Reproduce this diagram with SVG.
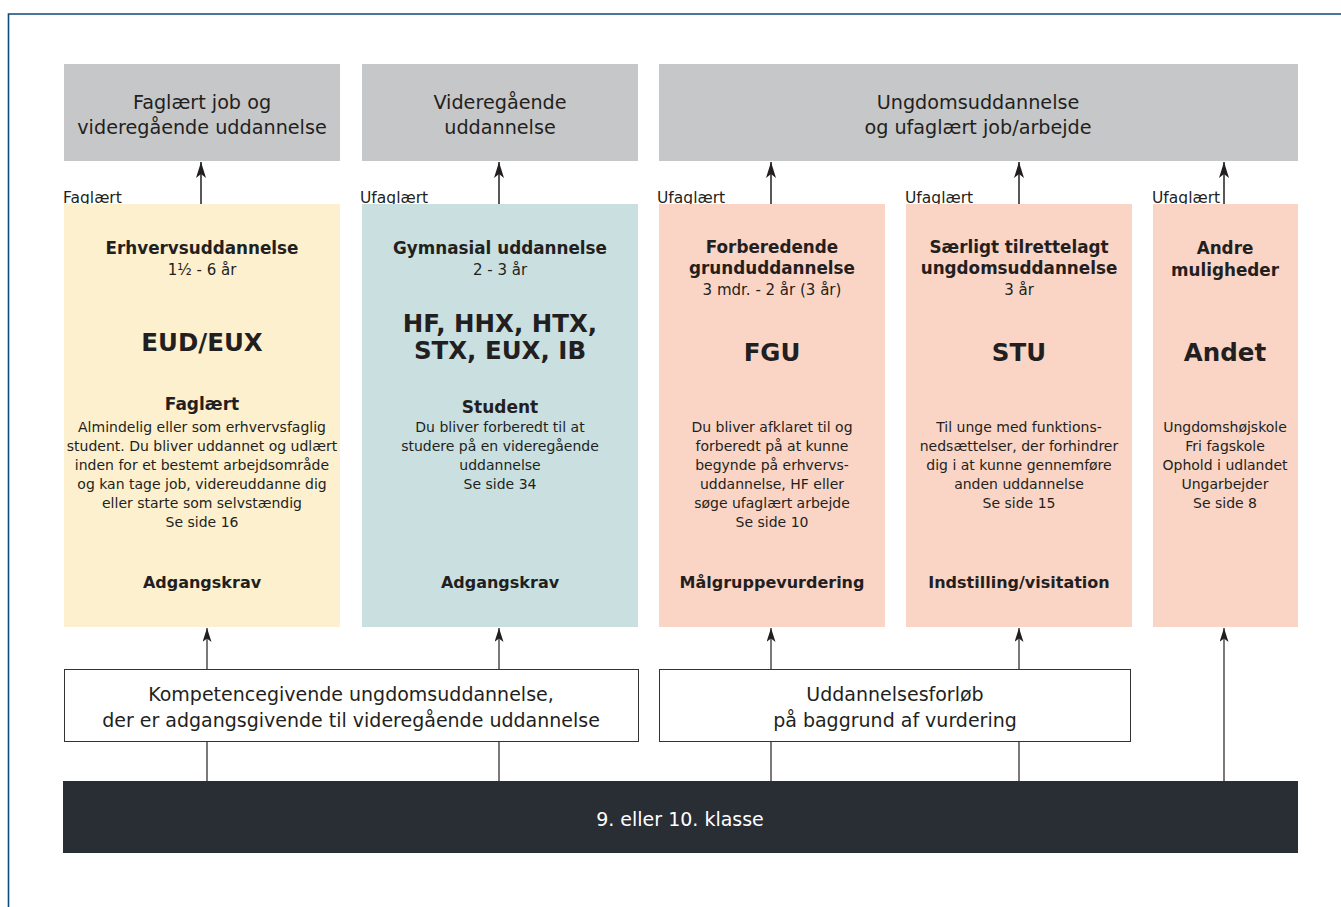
<svg xmlns="http://www.w3.org/2000/svg" width="1341" height="907" viewBox="0 0 1341 907">
<style>
text{font-family:"DejaVu Sans","Open Sans",sans-serif;fill:#231f20;text-anchor:middle}
.hd{font-size:19.2px}
.lb{font-size:15.5px;text-anchor:start}
.t{font-size:16.8px;font-weight:bold}
.s{font-size:15px}
.big{font-size:24.5px;font-weight:bold}
.d{font-size:14px}
.f{font-size:17px;font-weight:bold}
.g{font-size:16px;font-weight:bold}
.w{font-size:19px}
.gray{fill:#c6c7c9}
.c1{fill:#fdf0cf}
.c2{fill:#c9dfe0}
.c3{fill:#fad5c6}
.wb{fill:#fff;stroke:#333;stroke-width:1}
.ln{stroke:#231f20;stroke-width:1.5;fill:none}
.lt{stroke:#231f20;stroke-width:1.2;fill:none}
</style>
<defs>
<marker id="ah" viewBox="0 0 16 10" refX="16" refY="5" markerWidth="16" markerHeight="10" markerUnits="userSpaceOnUse" orient="auto"><path d="M0,0 L16,5 L0,10 L4,5 z" fill="#231f20"/></marker>
<marker id="ah2" viewBox="0 0 14 9" refX="14" refY="4.5" markerWidth="14" markerHeight="9" markerUnits="userSpaceOnUse" orient="auto"><path d="M0,0 L14,4.5 L0,9 L3.5,4.5 z" fill="#231f20"/></marker>
</defs>
<rect width="1341" height="907" fill="#fff"/>
<path d="M8.5,907 V14 H1341" fill="none" stroke="#0e4a7c" stroke-width="1.6"/>

<g id="top-faglaert">
<rect class="gray" x="64" y="64" width="276" height="97"/>
<text class="hd" x="202" y="109">Faglært job og</text>
<text class="hd" x="202" y="134">videregående uddannelse</text>
</g>
<g id="top-videregaaende">
<rect class="gray" x="362" y="64" width="276" height="97"/>
<text class="hd" x="500" y="109">Videregående</text>
<text class="hd" x="500" y="134">uddannelse</text>
</g>
<g id="top-ungdom">
<rect class="gray" x="659" y="64" width="639" height="97"/>
<text class="hd" x="978" y="109">Ungdomsuddannelse</text>
<text class="hd" x="978" y="134">og ufaglært job/arbejde</text>
</g>

<g id="labels">
<text class="lb" x="63" y="203">Faglært</text>
<text class="lb" x="360" y="203">Ufaglært</text>
<text class="lb" x="657" y="203">Ufaglært</text>
<text class="lb" x="905" y="203">Ufaglært</text>
<text class="lb" x="1152" y="203">Ufaglært</text>
</g>

<g id="col-eud">
<rect class="c1" x="64" y="204" width="276" height="423"/>
<text class="t" x="202" y="254">Erhvervsuddannelse</text>
<text class="s" x="202" y="275">1½ - 6 år</text>
<text class="big" x="202" y="351">EUD/EUX</text>
<text class="f" x="202" y="410">Faglært</text>
<text class="d" x="202" y="432">Almindelig eller som erhvervsfaglig</text>
<text class="d" x="202" y="451">student. Du bliver uddannet og udlært</text>
<text class="d" x="202" y="470">inden for et bestemt arbejdsområde</text>
<text class="d" x="202" y="489">og kan tage job, videreuddanne dig</text>
<text class="d" x="202" y="508">eller starte som selvstændig</text>
<text class="d" x="202" y="527">Se side 16</text>
<text class="g" x="202" y="588">Adgangskrav</text>
</g>
<g id="col-gym">
<rect class="c2" x="362" y="204" width="276" height="423"/>
<text class="t" x="500" y="254">Gymnasial uddannelse</text>
<text class="s" x="500" y="275">2 - 3 år</text>
<text class="big" x="500" y="332">HF, HHX, HTX,</text>
<text class="big" x="500" y="359">STX, EUX, IB</text>
<text class="f" x="500" y="413">Student</text>
<text class="d" x="500" y="432">Du bliver forberedt til at</text>
<text class="d" x="500" y="451">studere på en videregående</text>
<text class="d" x="500" y="470">uddannelse</text>
<text class="d" x="500" y="489">Se side 34</text>
<text class="g" x="500" y="588">Adgangskrav</text>
</g>
<g id="col-fgu">
<rect class="c3" x="659" y="204" width="226" height="423"/>
<text class="t" x="772" y="253">Forberedende</text>
<text class="t" x="772" y="274">grunduddannelse</text>
<text class="s" x="772" y="295">3 mdr. - 2 år (3 år)</text>
<text class="big" x="772" y="361">FGU</text>
<text class="d" x="772" y="432">Du bliver afklaret til og</text>
<text class="d" x="772" y="451">forberedt på at kunne</text>
<text class="d" x="772" y="470">begynde på erhvervs-</text>
<text class="d" x="772" y="489">uddannelse, HF eller</text>
<text class="d" x="772" y="508">søge ufaglært arbejde</text>
<text class="d" x="772" y="527">Se side 10</text>
<text class="g" x="772" y="588">Målgruppevurdering</text>
</g>
<g id="col-stu">
<rect class="c3" x="906" y="204" width="226" height="423"/>
<text class="t" x="1019" y="253">Særligt tilrettelagt</text>
<text class="t" x="1019" y="274">ungdomsuddannelse</text>
<text class="s" x="1019" y="295">3 år</text>
<text class="big" x="1019" y="361">STU</text>
<text class="d" x="1019" y="432">Til unge med funktions-</text>
<text class="d" x="1019" y="451">nedsættelser, der forhindrer</text>
<text class="d" x="1019" y="470">dig i at kunne gennemføre</text>
<text class="d" x="1019" y="489">anden uddannelse</text>
<text class="d" x="1019" y="508">Se side 15</text>
<text class="g" x="1019" y="588">Indstilling/visitation</text>
</g>
<g id="col-andet">
<rect class="c3" x="1153" y="204" width="145" height="423"/>
<text class="t" x="1225" y="254">Andre</text>
<text class="t" x="1225" y="276">muligheder</text>
<text class="big" x="1225" y="361">Andet</text>
<text class="d" x="1225" y="432">Ungdomshøjskole</text>
<text class="d" x="1225" y="451">Fri fagskole</text>
<text class="d" x="1225" y="470">Ophold i udlandet</text>
<text class="d" x="1225" y="489">Ungarbejder</text>
<text class="d" x="1225" y="508">Se side 8</text>
</g>

<g id="box-kompetence">
<rect class="wb" x="64.5" y="669.5" width="574" height="72"/>
<text class="w" x="351" y="701">Kompetencegivende ungdomsuddannelse,</text>
<text class="w" x="351" y="727">der er adgangsgivende til videregående uddannelse</text>
</g>
<g id="box-forloeb">
<rect class="wb" x="659.5" y="669.5" width="471" height="72"/>
<text class="w" x="895" y="701">Uddannelsesforløb</text>
<text class="w" x="895" y="727">på baggrund af vurdering</text>
</g>
<g id="bar-klasse">
<rect x="63" y="781" width="1235" height="72" fill="#292d34"/>
<text class="w" x="680" y="826" style="fill:#fff">9. eller 10. klasse</text>
</g>

<g id="connectors">
<line class="ln" x1="201" y1="204" x2="201" y2="162" marker-end="url(#ah)"/>
<line class="ln" x1="499" y1="204" x2="499" y2="162" marker-end="url(#ah)"/>
<line class="ln" x1="771" y1="204" x2="771" y2="162" marker-end="url(#ah)"/>
<line class="ln" x1="1019" y1="204" x2="1019" y2="162" marker-end="url(#ah)"/>
<line class="ln" x1="1224" y1="204" x2="1224" y2="162" marker-end="url(#ah)"/>
<line class="lt" x1="207" y1="669" x2="207" y2="628" marker-end="url(#ah2)"/>
<line class="lt" x1="499" y1="669" x2="499" y2="628" marker-end="url(#ah2)"/>
<line class="lt" x1="771" y1="669" x2="771" y2="628" marker-end="url(#ah2)"/>
<line class="lt" x1="1019" y1="669" x2="1019" y2="628" marker-end="url(#ah2)"/>
<line class="lt" x1="1224" y1="781" x2="1224" y2="628" marker-end="url(#ah2)"/>
<line class="lt" x1="207" y1="781" x2="207" y2="742"/>
<line class="lt" x1="499" y1="781" x2="499" y2="742"/>
<line class="lt" x1="771" y1="781" x2="771" y2="742"/>
<line class="lt" x1="1019" y1="781" x2="1019" y2="742"/>
</g>
</svg>
